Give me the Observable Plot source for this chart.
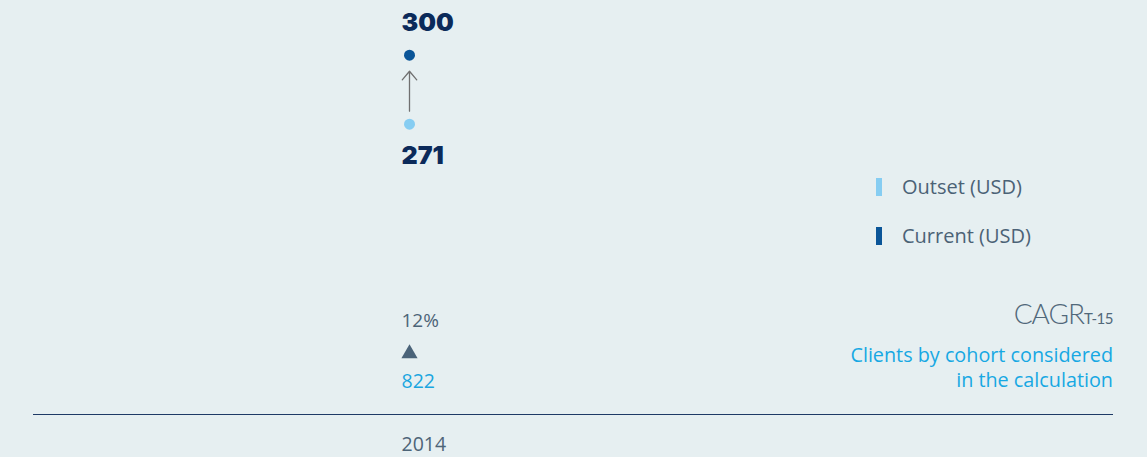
<!DOCTYPE html>
<html>
<head>
<meta charset="utf-8">
<script src="https://cdn.jsdelivr.net/npm/d3@7"></script>
<script src="https://cdn.jsdelivr.net/npm/@observablehq/plot@0.6"></script>
<style>
  html, body { margin: 0; padding: 0; background: #e6eff1; }
  #wrap { position: relative; width: 1147px; height: 457px; overflow: hidden; font-family: "Open Sans", sans-serif; }
  #chart svg { display: block; }
  .legend { position: absolute; left: 876px; top: 0; }
  .litem { position: absolute; left: 0; white-space: nowrap; display: flex; align-items: center; height: 18px; }
  .lsw { width: 6px; height: 18px; margin-right: 20px; }
  .ltxt { font-size: 20px; color: #4b6276; line-height: 18px; }
  .note { position: absolute; right: 34px; text-align: right; white-space: nowrap; }
  .cagr { top: 296px; font-family: Lato, sans-serif; font-size: 28px; line-height: 34px; font-weight: 300; color: #51687a; letter-spacing: -1px; }
  .cagr sub { font-size: 15px; vertical-align: baseline; font-weight: 400; letter-spacing: -0.5px; }
  .clients { top: 342px; font-size: 19.8px; line-height: 25px; color: #17a8e3; }
</style>
</head>
<body>
<div id="wrap">
  <div id="chart"></div>
  <div class="legend" id="legend"></div>
  <div class="note cagr">CAGR<sub>T-15</sub></div>
  <div class="note clients">Clients by cohort considered<br>in the calculation</div>
</div>
<script>
// ---- data ----
const years = [2014];
const outset = [271];
const current = [300];
const cagr = ["12%"];
const clients = [822];
const legendLabels = ["Outset (USD)", "Current (USD)"];
const legendColors = ["#86cdf2", "#0a5598"];
const tickYears = [2014];

const rows = years.map((y, i) => ({year: y, outset: outset[i], current: current[i], cagr: cagr[i], clients: clients[i]}));

const baseText = {x: "year", textAnchor: "start", dx: -8, lineAnchor: "middle", fontFamily: "'Open Sans', sans-serif"};
const bigText = {...baseText, fontFamily: "Inter, 'DejaVu Sans', sans-serif", fontSize: 25, fontWeight: 900, fill: "#0b2a5a"};

const plot = Plot.plot({
  width: 1147,
  height: 457,
  marginLeft: 31,
  marginRight: 36,
  marginTop: 0,
  marginBottom: 43,
  style: {background: "transparent", fontFamily: "'Open Sans', sans-serif"},
  x: {type: "linear", domain: [2010.5, 2020.5]},
  y: {domain: [149, 323], axis: null},
  marks: [
    Plot.ruleY([149], {stroke: "#1e3a66", strokeWidth: 1.2, insetLeft: 2, insetRight: -2}),
    Plot.arrow(rows, {x1: "year", x2: "year", y1: "outset", y2: "current", stroke: "#707070", strokeWidth: 1.3, insetStart: 13, insetEnd: 16, headLength: 13, headAngle: 80}),
    Plot.dot(rows, {x: "year", y: "outset", r: 5.5, fill: legendColors[0]}),
    Plot.dot(rows, {x: "year", y: "current", r: 5.5, fill: legendColors[1]}),
    Plot.text(rows, {...bigText, y: "current", text: d => String(d.current), dy: -32}),
    Plot.text(rows, {...bigText, y: "outset", text: d => String(d.outset), dy: 32}),
    Plot.text(rows, {...baseText, frameAnchor: "bottom", text: "cagr", dy: -94, fontSize: 19, fill: "#4d6478"}),
    Plot.dot(rows, {x: "year", frameAnchor: "bottom", symbol: "triangle", r: 6, fill: "#4a6379", dy: -61}),
    Plot.text(rows, {...baseText, frameAnchor: "bottom", text: d => String(d.clients), dy: -33, fontSize: 19.5, fill: "#1aa6e0"}),
    Plot.axisX({ticks: tickYears, tickSize: 0, tickPadding: 23, tickFormat: d => String(d), textAnchor: "start", dx: -8, fontSize: 19.5, fill: "#4d6478", label: null})
  ]
});
document.getElementById("chart").appendChild(plot);

// legend
const legend = document.getElementById("legend");
const tops = [178, 227];
legendLabels.forEach((lab, i) => {
  const item = document.createElement("div");
  item.className = "litem";
  item.style.top = tops[i] + "px";
  item.innerHTML = `<div class="lsw" style="background:${legendColors[i]}"></div><div class="ltxt">${lab}</div>`;
  legend.appendChild(item);
});
</script>
</body>
</html>
